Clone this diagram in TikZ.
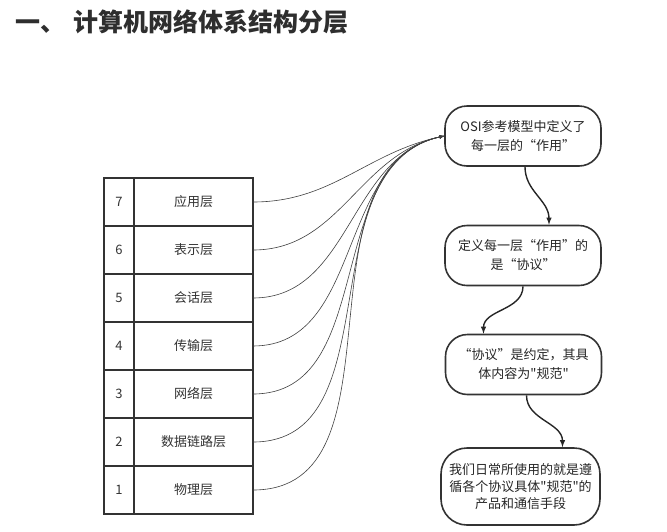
\documentclass[tikz,border=0pt]{standalone}
\usepackage{fontspec}
\setmainfont{Noto Sans CJK SC}[Ligatures=TeXOff]
\usetikzlibrary{arrows}

\begin{document}
\begin{tikzpicture}[
    x=1pt, y=-1pt,
    cell/.style={draw=black!80, line width=1.6pt, inner sep=0pt, outer sep=0pt,
        minimum height=48pt, text=black!80, font=\fontsize{13}{16}\selectfont},
    note/.style={draw=black!80, line width=1.6pt, rounded corners=22pt, align=center,
        minimum width=156pt, minimum height=60pt, inner sep=2pt, text=black!85,
        font=\fontsize{13}{19}\selectfont},
    link/.style={black!75, line width=0.6pt, ->, >=latex},
    step line/.style={black!85, line width=1.4pt, ->, >=latex}
    ]
    \useasboundingbox (0,0) rectangle (667,531);
    % title
    \node[anchor=west, text=black!82, font=\fontsize{25}{30}\selectfont\bfseries]
        (title) at (12,22) {一、\hspace{0.3em}计算机网络体系结构分层};
    % layer table
    \foreach \n/\layer in {7/应用层, 6/表示层, 5/会话层, 4/传输层,
                           3/网络层, 2/数据链路层, 1/物理层}{
        \node[cell, minimum width=30pt] (num\n) at (119,{202+48*(7-\n)}) {\n};
        \node[cell, minimum width=119pt] (layer\n) at (193.5,{202+48*(7-\n)}) {\layer};
    }
    % notes
    \node[note] (osi) at (523,136) {OSI参考模型中定义了\\每一层的“作用”};
    \node[note] (proto) at (523,255.5) {定义每一层“作用”的\\是“协议”};
    \node[note] (spec) at (523.5,364.5) {“协议”是约定，其具\\体内容为"规范"};
    \node[note, minimum width=159pt, minimum height=77pt, rounded corners=26pt,
        font=\fontsize{13}{17}\selectfont]
        (use) at (520.5,486.5) {我们日常所使用的就是遵\\循各个协议具体"规范"的\\产品和通信手段};
    % every layer points to the first note
    \foreach \n in {7,...,1}
        \draw[link] (layer\n.east) to[out=0, in=192] (osi.west);
    % chain of notes
    \draw[step line] ([xshift=2pt]osi.south) to[out=-90, in=90] ([xshift=26pt]proto.north);
    \draw[step line] (proto.south) to[out=-90, in=90] ([xshift=-40pt]spec.north);
    \draw[step line] ([xshift=3pt]spec.south) to[out=-90, in=90] ([xshift=42pt]use.north);
\end{tikzpicture}
\end{document}
